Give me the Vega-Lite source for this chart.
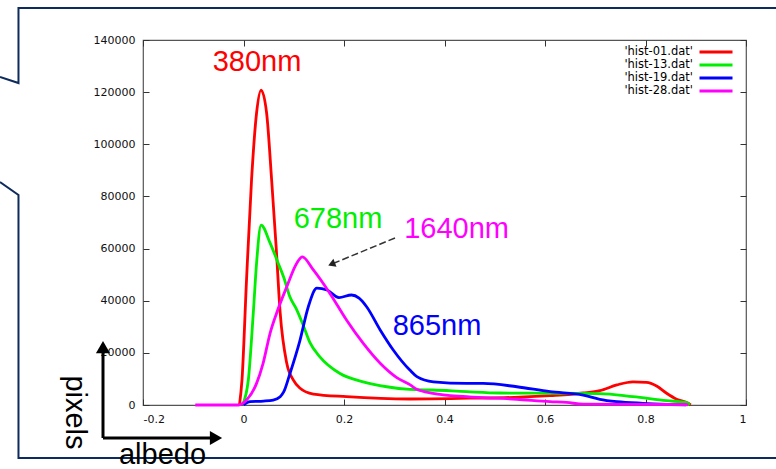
{
  "$schema": "https://vega.github.io/schema/vega-lite/v6.json",
  "width": 603,
  "height": 365,
  "autosize": {"type": "none"},
  "padding": {"left": 143, "top": 40, "right": 30, "bottom": 64},
  "background": "white",
  "config": {
    "view": {"stroke": "#555", "strokeWidth": 1.2},
    "axis": {"grid": false, "domain": false, "title": null, "tickColor": "#333", "tickWidth": 1, "labelFont": "DejaVu Sans", "labelFontSize": 11, "labelColor": "#111"}
  },
  "resolve": {"axis": {"x": "independent", "y": "independent"}},
  "layer": [
    {
      "data": {"values": [
        {"seg": "a", "i": 0, "x": 1.07, "y": 152273},
        {"seg": "a", "i": 1, "x": -0.4478, "y": 152273},
        {"seg": "a", "i": 2, "x": -0.4478, "y": 123506},
        {"seg": "a", "i": 3, "x": -0.4846, "y": 125808},
        {"seg": "b", "i": 0, "x": -0.4846, "y": 85534},
        {"seg": "b", "i": 1, "x": -0.4478, "y": 80548},
        {"seg": "b", "i": 2, "x": -0.4478, "y": -20329},
        {"seg": "b", "i": 3, "x": 1.07, "y": -20329}
      ]},
      "mark": {"type": "line", "color": "#0d2b5c", "strokeWidth": 2, "clip": false},
      "encoding": {
        "x": {"field": "x", "type": "quantitative", "scale": {"domain": [-0.2, 1], "nice": false, "zero": false},
              "axis": {"orient": "top", "labels": false, "tickSize": -6, "values": [-0.2, 0, 0.2, 0.4, 0.6, 0.8, 1]}},
        "y": {"field": "y", "type": "quantitative", "scale": {"domain": [0, 140000], "nice": false, "zero": false},
              "axis": {"orient": "right", "labels": false, "tickSize": -6, "values": [0, 20000, 40000, 60000, 80000, 100000, 120000, 140000]}},
        "detail": {"field": "seg"},
        "order": {"field": "i", "type": "quantitative"}
      }
    },
    {
      "data": {"values": [
        {"series": "'hist-01.dat'", "x": -0.008, "y": 0},
        {"series": "'hist-01.dat'", "x": -0.003, "y": 9600},
        {"series": "'hist-01.dat'", "x": 0.006, "y": 47900},
        {"series": "'hist-01.dat'", "x": 0.016, "y": 86300},
        {"series": "'hist-01.dat'", "x": 0.026, "y": 112000},
        {"series": "'hist-01.dat'", "x": 0.035, "y": 120800},
        {"series": "'hist-01.dat'", "x": 0.046, "y": 112000},
        {"series": "'hist-01.dat'", "x": 0.056, "y": 86300},
        {"series": "'hist-01.dat'", "x": 0.065, "y": 60600},
        {"series": "'hist-01.dat'", "x": 0.073, "y": 35300},
        {"series": "'hist-01.dat'", "x": 0.086, "y": 16100},
        {"series": "'hist-01.dat'", "x": 0.099, "y": 9600},
        {"series": "'hist-01.dat'", "x": 0.112, "y": 6500},
        {"series": "'hist-01.dat'", "x": 0.139, "y": 4200},
        {"series": "'hist-01.dat'", "x": 0.205, "y": 3200},
        {"series": "'hist-01.dat'", "x": 0.331, "y": 2300},
        {"series": "'hist-01.dat'", "x": 0.45, "y": 2600},
        {"series": "'hist-01.dat'", "x": 0.55, "y": 3000},
        {"series": "'hist-01.dat'", "x": 0.61, "y": 3600},
        {"series": "'hist-01.dat'", "x": 0.676, "y": 4600},
        {"series": "'hist-01.dat'", "x": 0.709, "y": 5500},
        {"series": "'hist-01.dat'", "x": 0.743, "y": 7700},
        {"series": "'hist-01.dat'", "x": 0.775, "y": 8900},
        {"series": "'hist-01.dat'", "x": 0.802, "y": 8700},
        {"series": "'hist-01.dat'", "x": 0.822, "y": 7300},
        {"series": "'hist-01.dat'", "x": 0.842, "y": 4500},
        {"series": "'hist-01.dat'", "x": 0.862, "y": 2200},
        {"series": "'hist-01.dat'", "x": 0.885, "y": 650},
        {"series": "'hist-01.dat'", "x": 0.89, "y": 0},
        {"series": "'hist-13.dat'", "x": -0.002, "y": 0},
        {"series": "'hist-13.dat'", "x": 0.0096, "y": 9600},
        {"series": "'hist-13.dat'", "x": 0.0195, "y": 35300},
        {"series": "'hist-13.dat'", "x": 0.026, "y": 54400},
        {"series": "'hist-13.dat'", "x": 0.035, "y": 69000},
        {"series": "'hist-13.dat'", "x": 0.053, "y": 62100},
        {"series": "'hist-13.dat'", "x": 0.069, "y": 54400},
        {"series": "'hist-13.dat'", "x": 0.08, "y": 49000},
        {"series": "'hist-13.dat'", "x": 0.0925, "y": 41400},
        {"series": "'hist-13.dat'", "x": 0.106, "y": 36500},
        {"series": "'hist-13.dat'", "x": 0.119, "y": 30500},
        {"series": "'hist-13.dat'", "x": 0.132, "y": 24000},
        {"series": "'hist-13.dat'", "x": 0.152, "y": 18500},
        {"series": "'hist-13.dat'", "x": 0.192, "y": 12100},
        {"series": "'hist-13.dat'", "x": 0.238, "y": 8900},
        {"series": "'hist-13.dat'", "x": 0.285, "y": 7000},
        {"series": "'hist-13.dat'", "x": 0.331, "y": 6000},
        {"series": "'hist-13.dat'", "x": 0.377, "y": 5750},
        {"series": "'hist-13.dat'", "x": 0.444, "y": 5100},
        {"series": "'hist-13.dat'", "x": 0.51, "y": 4600},
        {"series": "'hist-13.dat'", "x": 0.63, "y": 4500},
        {"series": "'hist-13.dat'", "x": 0.709, "y": 4400},
        {"series": "'hist-13.dat'", "x": 0.775, "y": 3200},
        {"series": "'hist-13.dat'", "x": 0.842, "y": 1650},
        {"series": "'hist-13.dat'", "x": 0.882, "y": 900},
        {"series": "'hist-13.dat'", "x": 0.888, "y": 0},
        {"series": "'hist-19.dat'", "x": 0.0, "y": 0},
        {"series": "'hist-19.dat'", "x": 0.013, "y": 1300},
        {"series": "'hist-19.dat'", "x": 0.04, "y": 1500},
        {"series": "'hist-19.dat'", "x": 0.059, "y": 1900},
        {"series": "'hist-19.dat'", "x": 0.073, "y": 3200},
        {"series": "'hist-19.dat'", "x": 0.08, "y": 5000},
        {"series": "'hist-19.dat'", "x": 0.0925, "y": 12100},
        {"series": "'hist-19.dat'", "x": 0.112, "y": 24500},
        {"series": "'hist-19.dat'", "x": 0.129, "y": 37700},
        {"series": "'hist-19.dat'", "x": 0.146, "y": 44800},
        {"series": "'hist-19.dat'", "x": 0.166, "y": 44100},
        {"series": "'hist-19.dat'", "x": 0.19, "y": 41200},
        {"series": "'hist-19.dat'", "x": 0.215, "y": 42200},
        {"series": "'hist-19.dat'", "x": 0.23, "y": 41000},
        {"series": "'hist-19.dat'", "x": 0.245, "y": 37700},
        {"series": "'hist-19.dat'", "x": 0.272, "y": 28800},
        {"series": "'hist-19.dat'", "x": 0.298, "y": 21100},
        {"series": "'hist-19.dat'", "x": 0.331, "y": 13400},
        {"series": "'hist-19.dat'", "x": 0.345, "y": 10900},
        {"series": "'hist-19.dat'", "x": 0.378, "y": 8900},
        {"series": "'hist-19.dat'", "x": 0.444, "y": 8300},
        {"series": "'hist-19.dat'", "x": 0.477, "y": 8300},
        {"series": "'hist-19.dat'", "x": 0.544, "y": 7000},
        {"series": "'hist-19.dat'", "x": 0.61, "y": 5100},
        {"series": "'hist-19.dat'", "x": 0.676, "y": 3800},
        {"series": "'hist-19.dat'", "x": 0.709, "y": 2200},
        {"series": "'hist-19.dat'", "x": 0.743, "y": 1300},
        {"series": "'hist-19.dat'", "x": 0.795, "y": 650},
        {"series": "'hist-19.dat'", "x": 0.85, "y": 200},
        {"series": "'hist-19.dat'", "x": 0.88, "y": 0},
        {"series": "'hist-28.dat'", "x": -0.096, "y": 0},
        {"series": "'hist-28.dat'", "x": -0.01, "y": 0},
        {"series": "'hist-28.dat'", "x": 0.006, "y": 1900},
        {"series": "'hist-28.dat'", "x": 0.026, "y": 8300},
        {"series": "'hist-28.dat'", "x": 0.039, "y": 16000},
        {"series": "'hist-28.dat'", "x": 0.053, "y": 27600},
        {"series": "'hist-28.dat'", "x": 0.066, "y": 35300},
        {"series": "'hist-28.dat'", "x": 0.086, "y": 45300},
        {"series": "'hist-28.dat'", "x": 0.106, "y": 54400},
        {"series": "'hist-28.dat'", "x": 0.117, "y": 56800},
        {"series": "'hist-28.dat'", "x": 0.139, "y": 51800},
        {"series": "'hist-28.dat'", "x": 0.172, "y": 42800},
        {"series": "'hist-28.dat'", "x": 0.205, "y": 32600},
        {"series": "'hist-28.dat'", "x": 0.238, "y": 23700},
        {"series": "'hist-28.dat'", "x": 0.272, "y": 16000},
        {"series": "'hist-28.dat'", "x": 0.305, "y": 10500},
        {"series": "'hist-28.dat'", "x": 0.331, "y": 7800},
        {"series": "'hist-28.dat'", "x": 0.345, "y": 6000},
        {"series": "'hist-28.dat'", "x": 0.377, "y": 4500},
        {"series": "'hist-28.dat'", "x": 0.444, "y": 3200},
        {"series": "'hist-28.dat'", "x": 0.544, "y": 2200},
        {"series": "'hist-28.dat'", "x": 0.61, "y": 1300},
        {"series": "'hist-28.dat'", "x": 0.643, "y": 1000},
        {"series": "'hist-28.dat'", "x": 0.676, "y": 300},
        {"series": "'hist-28.dat'", "x": 0.88, "y": 200},
        {"series": "'hist-28.dat'", "x": 0.885, "y": 0}
      ]},
      "mark": {"type": "line", "strokeWidth": 2.8, "interpolate": "monotone", "clip": false},
      "encoding": {
        "x": {"field": "x", "type": "quantitative",
              "axis": {"orient": "bottom", "tickSize": -6, "labelPadding": 14, "values": [-0.2, 0, 0.2, 0.4, 0.6, 0.8, 1], "format": "~g", "labelExpr": "replace(datum.label, '−', '-')"}},
        "y": {"field": "y", "type": "quantitative",
              "axis": {"orient": "left", "tickSize": -6, "labelPadding": 14, "values": [0, 20000, 40000, 60000, 80000, 100000, 120000, 140000], "format": "d"}},
        "color": {"field": "series", "type": "nominal",
                  "scale": {"domain": ["'hist-01.dat'", "'hist-13.dat'", "'hist-19.dat'", "'hist-28.dat'"], "range": ["#ff0000", "#00ee00", "#0000ff", "#ff00ff"]},
                  "legend": {"orient": "none", "legendX": 566, "legendY": 5, "title": null, "symbolType": "M-3,0H3", "symbolSize": 121, "symbolStrokeWidth": 3, "labelAlign": "right", "labelOffset": -30, "labelFont": "DejaVu Sans", "labelFontSize": 11.5, "labelColor": "#000", "rowPadding": -1.7, "padding": 0}}
      }
    },
    {
      "data": {"values": [
        {"series": "'hist-01.dat'", "label": "380nm", "x": 0.0269, "y": 131370},
        {"series": "'hist-13.dat'", "label": "678nm", "x": 0.188, "y": 71530},
        {"series": "'hist-28.dat'", "label": "1640nm", "x": 0.424, "y": 67500},
        {"series": "'hist-19.dat'", "label": "865nm", "x": 0.385, "y": 30300}
      ]},
      "mark": {"type": "text", "font": "Liberation Sans", "fontSize": 29, "align": "center", "baseline": "middle", "clip": false},
      "encoding": {
        "x": {"field": "x", "type": "quantitative", "axis": null},
        "y": {"field": "y", "type": "quantitative", "axis": null},
        "text": {"field": "label"},
        "color": {"field": "series", "type": "nominal"}
      }
    },
    {
      "data": {"values": [{"x": 0.3015, "y": 64050, "x2": 0.1753, "y2": 54040}]},
      "mark": {"type": "rule", "color": "#333", "strokeWidth": 1.5, "strokeDash": [7, 3], "clip": false},
      "encoding": {
        "x": {"field": "x", "type": "quantitative", "axis": null},
        "y": {"field": "y", "type": "quantitative", "axis": null},
        "x2": {"field": "x2"},
        "y2": {"field": "y2"}
      }
    },
    {
      "data": {"values": [{"x": 0.1753, "y": 54040}]},
      "mark": {"type": "point", "shape": "triangle-up", "filled": true, "color": "#222", "opacity": 1, "size": 70, "angle": 248, "clip": false},
      "encoding": {
        "x": {"field": "x", "type": "quantitative", "axis": null},
        "y": {"field": "y", "type": "quantitative", "axis": null}
      }
    },
    {
      "data": {"values": [
        {"x": -0.2796, "y": -12657, "x2": -0.2796, "y2": 22246},
        {"x": -0.2796, "y": -12657, "x2": -0.0547, "y2": -12657}
      ]},
      "mark": {"type": "rule", "color": "#000", "strokeWidth": 3, "clip": false},
      "encoding": {
        "x": {"field": "x", "type": "quantitative", "axis": null},
        "y": {"field": "y", "type": "quantitative", "axis": null},
        "x2": {"field": "x2"},
        "y2": {"field": "y2"}
      }
    },
    {
      "data": {"values": [{"x": -0.2796, "y": 22246}]},
      "mark": {"type": "point", "shape": "triangle-up", "filled": true, "color": "#000", "opacity": 1, "size": 200, "clip": false},
      "encoding": {
        "x": {"field": "x", "type": "quantitative", "axis": null},
        "y": {"field": "y", "type": "quantitative", "axis": null}
      }
    },
    {
      "data": {"values": [{"x": -0.0547, "y": -12657}]},
      "mark": {"type": "point", "shape": "triangle-right", "filled": true, "color": "#000", "opacity": 1, "size": 200, "clip": false},
      "encoding": {
        "x": {"field": "x", "type": "quantitative", "axis": null},
        "y": {"field": "y", "type": "quantitative", "axis": null}
      }
    },
    {
      "data": {"values": [{"label": "pixels", "x": -0.3532, "y": -2877}]},
      "mark": {"type": "text", "font": "Liberation Sans", "fontSize": 29, "angle": 90, "align": "center", "baseline": "alphabetic", "color": "#000", "clip": false},
      "encoding": {
        "x": {"field": "x", "type": "quantitative", "axis": null},
        "y": {"field": "y", "type": "quantitative", "axis": null},
        "text": {"field": "label"}
      }
    },
    {
      "data": {"values": [{"label": "albedo", "x": -0.1612, "y": -22630}]},
      "mark": {"type": "text", "font": "Liberation Sans", "fontSize": 29, "align": "center", "baseline": "alphabetic", "color": "#000", "clip": false},
      "encoding": {
        "x": {"field": "x", "type": "quantitative", "axis": null},
        "y": {"field": "y", "type": "quantitative", "axis": null},
        "text": {"field": "label"}
      }
    }
  ]
}
